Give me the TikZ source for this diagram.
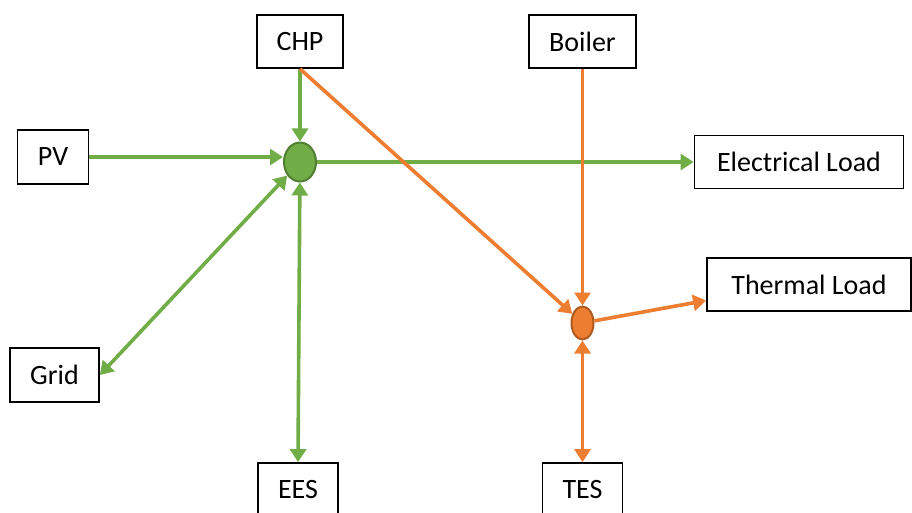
\documentclass[tikz,border=0pt]{standalone}
\usepackage{fontspec}
\setmainfont{Carlito}
\usetikzlibrary{shapes.geometric,arrows.meta}
\definecolor{elecgreen}{HTML}{70AD47}
\definecolor{elecgreendark}{HTML}{507E32}
\definecolor{heatorange}{HTML}{ED7D31}
\definecolor{heatorangedark}{HTML}{AE5A21}
\begin{document}
\begin{tikzpicture}[x=1pt,y=-1pt,
  unit/.style={draw=black,line width=1.8pt,inner sep=0pt,font=\fontsize{28}{33}\selectfont},
  ebus/.style={ellipse,draw=elecgreendark,fill=elecgreen,line width=2pt,inner sep=0pt,minimum width=32pt,minimum height=39pt},
  hbus/.style={ellipse,draw=heatorangedark,fill=heatorange,line width=2pt,inner sep=0pt,minimum width=22pt,minimum height=33pt},
  tip/.style={Triangle[length=13pt,width=16pt]},
  eflow/.style={draw=elecgreen,line width=3.6pt,-{Triangle[length=13pt,width=16pt]}},
  eflow2/.style={draw=elecgreen,line width=3.6pt,{Triangle[length=13pt,width=16pt]}-{Triangle[length=13pt,width=16pt]}},
  hflow/.style={draw=heatorange,line width=3.6pt,-{Triangle[length=13pt,width=16pt]}},
  hflow2/.style={draw=heatorange,line width=3.6pt,{Triangle[length=13pt,width=16pt]}-{Triangle[length=13pt,width=16pt]}}]
\useasboundingbox (0,0) rectangle (912,513);
% components
\node[unit,minimum width=86pt,minimum height=53pt] (chp) at (300,41.5) {CHP};
\node[unit,minimum width=107pt,minimum height=53pt] (boiler) at (582.5,41.5) {Boiler};
\node[unit,minimum width=71pt,minimum height=54pt] (pv) at (53,157) {PV};
\node[unit,minimum width=209pt,minimum height=53pt] (el) at (799,162) {Electrical Load};
\node[unit,minimum width=204pt,minimum height=53pt] (tl) at (809,284.5) {Thermal Load};
\node[unit,minimum width=89pt,minimum height=54pt] (grid) at (54.5,375) {Grid};
\node[unit,minimum width=80pt,minimum height=53pt] (ees) at (298,489.5) {EES};
\node[unit,minimum width=80pt,minimum height=53pt] (tes) at (582.5,489.5) {TES};
% busbars
\node[ebus] (ge) at (300,162) {};
\node[hbus] (oe) at (582.5,323) {};
% electrical flows
\draw[eflow] (chp.south) -- (ge.north);
\draw[eflow] (pv.east) -- (pv.east -| ge.west);
\draw[eflow] (ge.east) -- (el.west);
\draw[eflow2] (grid.east) -- (ge);
\draw[eflow2] (ees.north) -- (ge);
% thermal flows
\draw[hflow] (chp.south) -- (oe);
\draw[hflow] (boiler.south) -- (oe.north);
\draw[hflow] (oe) -- ([yshift=-16pt]tl.west);
\draw[hflow2] (tes.north) -- (oe.south);
\end{tikzpicture}
\end{document}
